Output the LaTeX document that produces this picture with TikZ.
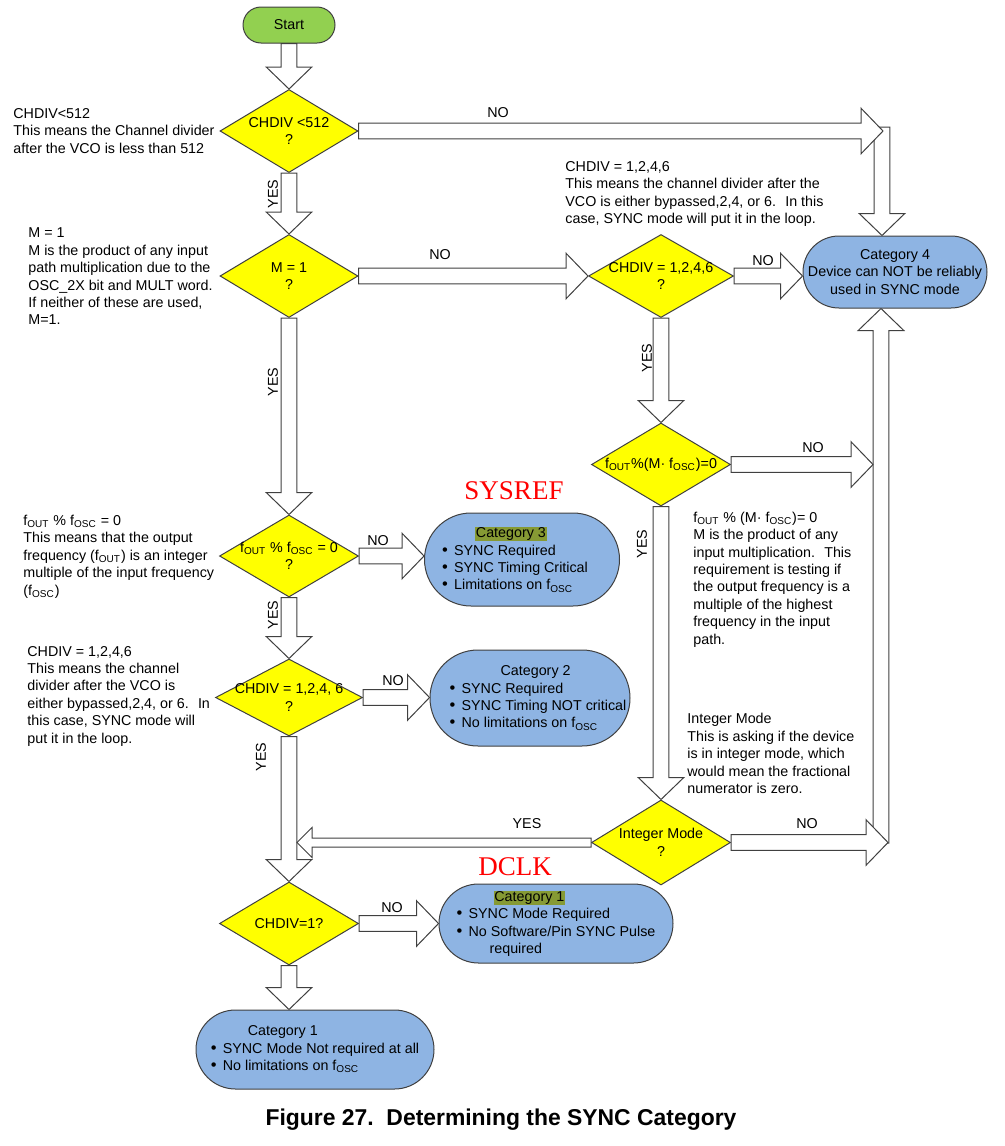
\documentclass[tikz,border=0pt]{standalone}
\usepackage{fontspec}
\setmainfont{Liberation Sans}
\newfontfamily\capfont{Liberation Serif}
\usetikzlibrary{shapes.geometric, calc}
\definecolor{edgec}{HTML}{404040}
\definecolor{decc}{HTML}{FFFF00}
\definecolor{catc}{HTML}{8EB4E3}
\definecolor{startc}{HTML}{92D050}
\definecolor{hlc}{HTML}{869A34}
\newcommand\hilite[1]{{\setlength{\fboxsep}{0.4pt}\colorbox{hlc}{#1}}}
\newcommand\itm{\makebox[6pt][l]{\scalebox{1.15}{\textbullet}}}
\tikzset{
    blk size/.code args={#1/#2/#3}{\def\blkS{#1}\def\blkH{#2}\def\blkL{#3}},
    blk size=3.9pt/11.4pt/11pt,
    blk/.style = {draw=edgec, fill=white, line width=0.5pt, to path={
        ($(\tikztostart)!\blkS!90:(\tikztotarget)$)
        -- ($($(\tikztotarget)!\blkL!(\tikztostart)$)!\blkS!90:(\tikztotarget)$)
        -- ($($(\tikztotarget)!\blkL!(\tikztostart)$)!\blkH!90:(\tikztotarget)$)
        -- (\tikztotarget)
        -- ($($(\tikztotarget)!\blkL!(\tikztostart)$)!\blkH!-90:(\tikztotarget)$)
        -- ($($(\tikztotarget)!\blkL!(\tikztostart)$)!\blkS!-90:(\tikztotarget)$)
        -- ($(\tikztostart)!\blkS!-90:(\tikztotarget)$) -- cycle}},
    dec/.style 2 args = {diamond, draw=edgec, fill=decc, line width=0.5pt,
        inner sep=0pt, minimum width=#1, minimum height=#2},
    pill/.style n args = {3}{draw=edgec, fill=catc, line width=0.5pt, inner sep=0pt,
        minimum width=#1, minimum height=#2, rounded corners=#3},
    pilltext/.style = {align=left, inner sep=0pt, xshift=#1},
    note/.style = {align=left, inner sep=0pt, anchor=west},
    lab/.style = {inner sep=0pt},
    redlab/.style = {inner sep=0pt, text=red, font=\capfont\fontsize{13.5}{15}\selectfont},
}

\begin{document}
\begin{tikzpicture}[x=0.5pt, y=-0.5pt, font=\fontsize{7.15}{8.7}\selectfont]
    \useasboundingbox (0,0) rectangle (1005,1146);

    \node[pill={46pt}{18pt}{9pt}, fill=startc] (start) at (289,25) {Start};

    \node[dec={69pt}{41.5pt}, label={[align=center]center:{CHDIV <512\\?}}] (d1) at (289,131) {};
    \node[dec={69pt}{41.5pt}, label={[align=center]center:{M = 1\\?}}] (d2) at (289,276) {};
    \node[dec={69.5pt}{41pt}, label={[align=center]center:{f\textsubscript{OUT} \% f\textsubscript{OSC} = 0\\?}}] (dfo) at (289,556) {};
    \node[dec={73.5pt}{38.5pt}, label={[align=center]center:{CHDIV = 1,2,4, 6\\?}}] (dc2) at (289,697.5) {};
    \node[dec={69.5pt}{41.5pt}, label={[align=center]center:{CHDIV=1?}}] (d6) at (289,923.5) {};

    \node[dec={72.5pt}{41.5pt}, label={[align=center]center:{CHDIV = 1,2,4,6\\?}}] (dch) at (661,276) {};
    \node[dec={69.5pt}{41.5pt}, label={[align=center]center:{f\textsubscript{OUT}\%(M· f\textsubscript{OSC})=0}}] (dm) at (661,464.5) {};
    \node[dec={69.5pt}{42.5pt}, label={[align=center]center:{Integer Mode\\?}}] (dint) at (661,842.5) {};

    \node[pill={92pt}{36pt}{18pt}, label={[align=center]center:{Category 4\\Device can NOT be reliably\\used in SYNC mode}}] (cat4) at (895,272) {};
    \node[pill={97.5pt}{46.5pt}{23.25pt}, label={[pilltext=-3.5pt]center:{\hspace*{16.5pt}\hilite{Category 3}\\\itm SYNC Required\\\itm SYNC Timing Critical\\\itm Limitations on f\textsubscript{OSC}}}] (cat3) at (522,559.5) {};
    \node[pill={100pt}{48pt}{24pt}, label={[pilltext=4pt]center:{\hspace*{25.5pt}Category 2\\\itm SYNC Required\\\itm SYNC Timing NOT critical\\\itm No limitations on f\textsubscript{OSC}}}] (cat2) at (530,698) {};
    \node[pill={117pt}{39.5pt}{19.75pt}, label={[pilltext=0pt]center:{\hspace*{18.5pt}\hilite{Category 1}\\\itm SYNC Mode Required\\\itm No Software/Pin SYNC Pulse\\\hspace*{16.5pt}required}}] (cat1a) at (556,923.5) {};
    \node[pill={119pt}{39.5pt}{19.75pt}, label={[pilltext=0pt]center:{\hspace*{18.5pt}Category 1\\\itm SYNC Mode Not required at all\\\itm No limitations on f\textsubscript{OSC}}}] (cat1b) at (315,1049.5) {};

    \node[redlab] (sysref) at (514,491) {SYSREF};
    \node[redlab] (dclk) at (515,867) {DCLK};

    \node[note] (n1) at (13,131) {CHDIV<512\\This means the Channel divider\\after the VCO is less than 512};
    \node[note] (n2) at (28,276.5) {M = 1\\M is the product of any input\\path multiplication due to the\\OSC\_2X bit and MULT word.\\If neither of these are used,\\M=1.};
    \node[note] (n3) at (23,556.5) {f\textsubscript{OUT} \% f\textsubscript{OSC} = 0\\This means that the output\\frequency (f\textsubscript{OUT}) is an integer\\multiple of the input frequency\\(f\textsubscript{OSC})};
    \node[note] (n4) at (27,696) {CHDIV = 1,2,4,6\\This means the channel\\divider after the VCO is\\either bypassed,2,4, or 6.~ In\\this case, SYNC mode will\\put it in the loop.};
    \node[note] (n5) at (565,194) {CHDIV = 1,2,4,6\\This means the channel divider after the\\VCO is either bypassed,2,4, or 6.~ In this\\case, SYNC mode will put it in the loop.};
    \node[note] (n6) at (693,579.5) {f\textsubscript{OUT} \% (M· f\textsubscript{OSC})= 0\\M is the product of any\\input multiplication.~ This\\requirement is testing if\\the output frequency is a\\multiple of the highest\\frequency in the input\\path.};
    \node[note] (n7) at (687,753.5) {Integer Mode\\This is asking if the device\\is in integer mode, which\\would mean the fractional\\numerator is zero.};

    \coordinate (j0) at (883,131);
    \coordinate (c4a) at (882,127);
    \coordinate (c4b) at (881,843);
    \coordinate (j1) at (873,464.5);
    \coordinate (j2) at (888,842.5);
    \coordinate (j3) at (297,842.5);

    \draw[blk] (start.south) to (d1.north);
    \draw[blk] (d1.south) to (d2.north);
    \draw[blk] (d2.south) to (dfo.north);
    \draw[blk] (dfo.south) to (dc2.north);
    \draw[blk] (dc2.south) to (d6.north);
    \draw[blk] (d6.south) to (d6.south |- cat1b.north);
    \draw[blk] (c4a) to (c4a |- cat4.north);
    \draw[blk] (c4b) to (c4b |- cat4.south);
    \draw[blk] (d1.east) to (j0);
    \draw[blk] (d2.east) to (dch.west);
    \draw[blk] (dch.east) to (dch.east -| cat4.west);
    \draw[blk] (dch.south) to (dm.north);
    \draw[blk] (dm.south) to (dint.north);
    \draw[blk] (dm.east) to (j1);
    \draw[blk] (dint.east) to (j2);
    \draw[blk, blk size=2.25pt/7.5pt/7.5pt] (dint.west) to (j3);
    \draw[blk] (dfo.east) to (dfo.east -| cat3.west);
    \draw[blk] (dc2.east) to (dc2.east -| cat2.west);
    \draw[blk] (d6.east) to (d6.east -| cat1a.west);

    \node[lab] (no1) at (498,113) {NO};
    \node[lab] (no2) at (440,255) {NO};
    \node[lab] (no3) at (763,261) {NO};
    \node[lab] (no4) at (813,448) {NO};
    \node[lab] (no5) at (807,824) {NO};
    \node[lab] (no6) at (378,541) {NO};
    \node[lab] (no7) at (393,681) {NO};
    \node[lab] (no8) at (392,908) {NO};
    \node[lab, rotate=90] (yes1) at (273,194) {YES};
    \node[lab, rotate=90] (yes2) at (273,382) {YES};
    \node[lab, rotate=90] (yes3) at (647,358) {YES};
    \node[lab, rotate=90] (yes4) at (642,544) {YES};
    \node[lab, rotate=90] (yes5) at (273,615) {YES};
    \node[lab, rotate=90] (yes6) at (261,757) {YES};
    \node[lab] (yes7) at (527,824) {YES};

    \node[font=\bfseries\fontsize{11.45}{13}\selectfont] (title) at (501,1120) {Figure 27.\ \ Determining the SYNC Category};
\end{tikzpicture}
\end{document}
